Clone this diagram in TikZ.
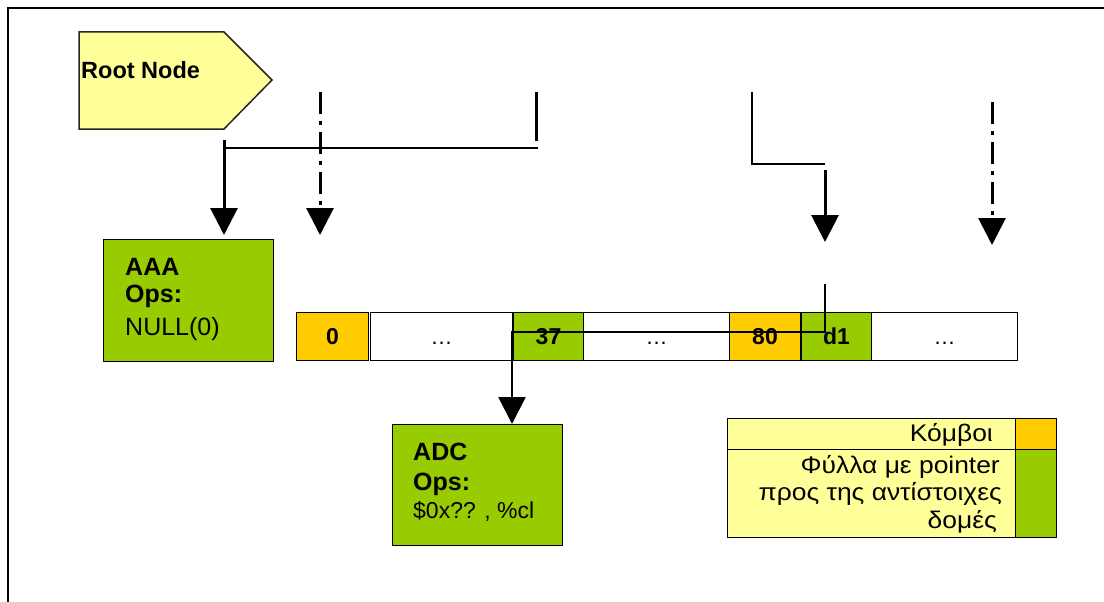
\documentclass[tikz,border=0pt]{standalone}
\usepackage{fontspec}
\setmainfont{Liberation Sans}
\newfontfamily\legendfont[FakeStretch=1.1]{Liberation Sans}
\usetikzlibrary{arrows.meta}
\definecolor{nodeyellow}{HTML}{FFFF99}
\definecolor{nodeorange}{HTML}{FFCC00}
\definecolor{nodegreen}{HTML}{99CC00}
\tikzset{
  lbl/.style={inner sep=0pt, anchor=base west},
  lbr/.style={inner sep=0pt, anchor=base east, font=\legendfont\fontsize{24}{28}\selectfont},
  cellbox/.style={draw=black, line width=1pt, minimum height=48pt, inner sep=0pt,
    anchor=north west, text height=16pt, text depth=0pt,
    font=\fontsize{23}{27}\selectfont\bfseries},
  dotsbox/.style={cellbox, fill=white, font=\fontsize{22}{26}\selectfont},
  opbox/.style={draw=black, line width=1pt, fill=nodegreen, anchor=north west, inner sep=0pt},
  legbox/.style={draw=black, line width=1pt, anchor=north west, inner sep=0pt},
  ptr/.style={line width=3pt, -{Triangle[width=27pt,length=27pt]}},
  ddot/.style={ptr, dash pattern=on 22pt off 7pt on 4pt off 7pt},
  link/.style={line width=2pt},
  bigbold/.style={lbl, font=\fontsize{25}{30}\selectfont\bfseries},
}
\begin{document}
\begin{tikzpicture}[x=1pt, y=-1pt]
\useasboundingbox (0,0) rectangle (1104,602);
% frame
\draw[line width=2pt] (1104,8) -- (8,8) -- (8,602);

% root node
\filldraw[fill=nodeyellow, draw=black!85, line width=1.5pt]
  (79,32) -- (224,32) -- (272,80) -- (224,129) -- (79,129) -- cycle;
\node[lbl, font=\fontsize{23.5}{28}\selectfont\bfseries] (root) at (81,78) {Root Node};

% AAA box
\node[opbox, minimum width=170pt, minimum height=122pt] (aaa) at (103,239) {};
\node[bigbold] (aaaname) at (125,275) {AAA};
\node[bigbold] (aaaops) at (125,302) {Ops:};
\node[lbl, font=\fontsize{25}{30}\selectfont] (aaaval) at (125,335) {NULL(0)};

% ADC box
\node[opbox, minimum width=170pt, minimum height=121pt] (adc) at (392,424) {};
\node[bigbold] (adcname) at (413,460) {ADC};
\node[bigbold] (adcops) at (413,490) {Ops:};
\node[lbl, font=\fontsize{23}{28}\selectfont] (adcval) at (413,518) {\$0x?? , \%cl};

% array cells
\node[cellbox, fill=nodeorange, minimum width=72pt] (c0) at (296,312) {0};
\node[dotsbox, minimum width=142pt] (e1) at (370,312) {\dots};
\node[cellbox, fill=nodegreen, minimum width=70pt] (c37) at (513,312) {37};
\node[dotsbox, minimum width=146pt] (e2) at (583,312) {\dots};
\node[cellbox, fill=nodeorange, minimum width=71pt] (c80) at (729,312) {80};
\node[cellbox, fill=nodegreen, minimum width=70pt] (cd1) at (801,312) {d1};
\node[dotsbox, minimum width=146pt] (e3) at (871,312) {\dots};

% top pointers
\coordinate (rootdrop) at (224,140);
\coordinate (rootbranch) at (224,148);
\coordinate (branchend) at (538,148);
\coordinate (ptrA) at (536,92);
\coordinate (ptrAend) at (536,141);
\draw[link] (rootbranch) -- (branchend);
\draw[line width=3pt] (ptrA) -- (ptrAend);
\draw[ptr, shorten >=4pt] (rootdrop) -- (rootdrop |- aaa.north);

\coordinate (nullA) at (320,92);
\coordinate (nullAend) at (320,235);
\draw[ddot] (nullA) -- (nullAend);

\coordinate (ptrB) at (752,92);
\coordinate (ptrBcorner) at (752,164);
\coordinate (ptrBend) at (825,164);
\draw[line width=2.5pt] (ptrB) -- (ptrBcorner) -- (ptrBend);
\coordinate (arrB) at (825,170);
\coordinate (arrBtip) at (825,242);
\draw[ptr] (arrB) -- (arrBtip);

\coordinate (nullB) at (992,102);
\coordinate (nullBend) at (992,245);
\draw[ddot] (nullB) -- (nullBend);

% d1 pointer to ADC
\coordinate (d1top) at (825,284);
\coordinate (d1turn) at (825,332);
\coordinate (adcturn) at (512,332);
\draw[ptr, line width=2.5pt] (d1top) -- (d1turn) -- (adcturn) -- (adcturn |- adc.north);

% legend
\node[legbox, fill=nodeyellow, minimum width=288pt, minimum height=31pt] (l1) at (727,418) {};
\node[legbox, fill=nodeorange, minimum width=41pt, minimum height=31pt] (l2) at (1015,418) {};
\node[legbox, fill=nodeyellow, minimum width=288pt, minimum height=88pt] (l3) at (727,449) {};
\node[legbox, fill=nodegreen, minimum width=41pt, minimum height=88pt] (l4) at (1015,449) {};
\node[lbr] (t1) at (993,441) {Κόμβοι};
\node[lbr] (t2) at (1000,473) {Φύλλα με pointer};
\node[lbr] (t3) at (1002,500) {προς της αντίστοιχες};
\node[lbr] (t4) at (997,528) {δομές};
\end{tikzpicture}
\end{document}
